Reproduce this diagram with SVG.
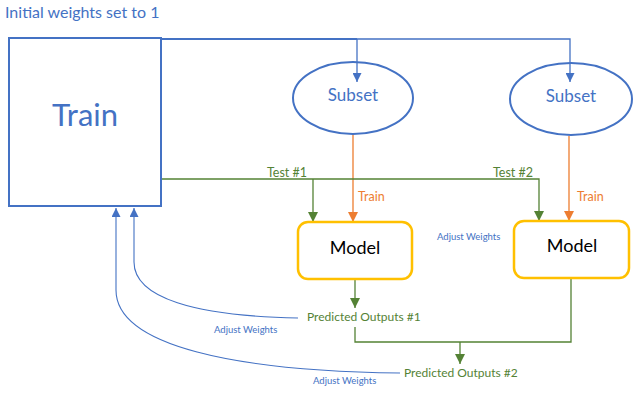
<svg xmlns="http://www.w3.org/2000/svg" width="640" height="404" viewBox="0 0 640 404">
<defs>
<style>
text{font-family:Lato,"Open Sans","Liberation Sans",sans-serif}
.b{fill:#4472C4}.g{fill:#548235}.o{fill:#ED7D31}
.lb{fill:none;stroke:#4472C4}.lg{fill:none;stroke:#548235;stroke-width:1.3}.lo{fill:none;stroke:#ED7D31;stroke-width:1.3}
</style>
<marker id="ab" viewBox="0 0 10 10" refX="10" refY="5" markerWidth="10" markerHeight="9" markerUnits="userSpaceOnUse" orient="auto"><path d="M0,0L10,5L0,10z" fill="#4472C4"/></marker>
<marker id="ag" viewBox="0 0 10 10" refX="10" refY="5" markerWidth="11" markerHeight="10" markerUnits="userSpaceOnUse" orient="auto"><path d="M0,0L10,5L0,10z" fill="#548235"/></marker>
<marker id="ao" viewBox="0 0 10 10" refX="10" refY="5" markerWidth="11" markerHeight="10" markerUnits="userSpaceOnUse" orient="auto"><path d="M0,0L10,5L0,10z" fill="#ED7D31"/></marker>
</defs>
<text x="5" y="18" font-size="16" class="b">Initial weights set to 1</text>
<g id="connectors">
<path class="lb" stroke-width="2" d="M161,39H357"/>
<path class="lb" stroke-width="1.3" d="M357,39H570V82" marker-end="url(#ab)"/>
<path class="lb" stroke-width="1.3" d="M357,39V82" marker-end="url(#ab)"/>
<path class="lo" d="M353,134V222" marker-end="url(#ao)"/>
<path class="lo" d="M569,136V221" marker-end="url(#ao)"/>
<path class="lg" d="M161,179H539V221" marker-end="url(#ag)"/>
<path class="lg" d="M313,179V222" marker-end="url(#ag)"/>
<path class="lg" d="M355,279V308" marker-end="url(#ag)"/>
<path class="lg" d="M355,327V342H571V278"/>
<path class="lg" d="M460,342V364" marker-end="url(#ag)"/>
<path class="lb" stroke-width="1.1" d="M298,318C195,316,134,298,134,262V208" marker-end="url(#ab)"/>
<path class="lb" stroke-width="1.1" d="M400,373C235,371,116,346,116,290V208" marker-end="url(#ab)"/>
<text x="287" y="177" font-size="12.5" class="g" text-anchor="middle">Test #1</text>
<text x="513" y="177" font-size="12.5" class="g" text-anchor="middle">Test #2</text>
<text x="358" y="201" font-size="12.5" class="o">Train</text>
<text x="577" y="201" font-size="12.5" class="o">Train</text>
<text x="437" y="240" font-size="9.5" class="b">Adjust Weights</text>
<text x="214" y="333" font-size="9.5" class="b">Adjust Weights</text>
<text x="313" y="384" font-size="9.5" class="b">Adjust Weights</text>
<text x="307" y="321" font-size="12" class="g">Predicted Outputs #1</text>
<text x="404" y="377" font-size="12" class="g">Predicted Outputs #2</text>
</g>
<g id="train">
<rect x="9" y="38" width="152" height="168" fill="none" stroke="#4472C4" stroke-width="2"/>
<text x="85" y="126" font-size="31" class="b" text-anchor="middle">Train</text>
</g>
<g id="subset1">
<ellipse cx="353" cy="98" rx="60" ry="36" fill="none" stroke="#4472C4" stroke-width="2"/>
<text x="353" y="101" font-size="17" class="b" text-anchor="middle">Subset</text>
</g>
<g id="subset2">
<ellipse cx="571" cy="99" rx="61" ry="36" fill="none" stroke="#4472C4" stroke-width="2"/>
<text x="571" y="102" font-size="17" class="b" text-anchor="middle">Subset</text>
</g>
<g id="model1">
<rect x="298" y="222" width="114" height="57" rx="10" fill="none" stroke="#FFC000" stroke-width="2.5"/>
<text x="355" y="254" font-size="18" fill="#000" text-anchor="middle">Model</text>
</g>
<g id="model2">
<rect x="514" y="221" width="115" height="57" rx="10" fill="none" stroke="#FFC000" stroke-width="2.5"/>
<text x="572" y="252" font-size="18" fill="#000" text-anchor="middle">Model</text>
</g>
</svg>
